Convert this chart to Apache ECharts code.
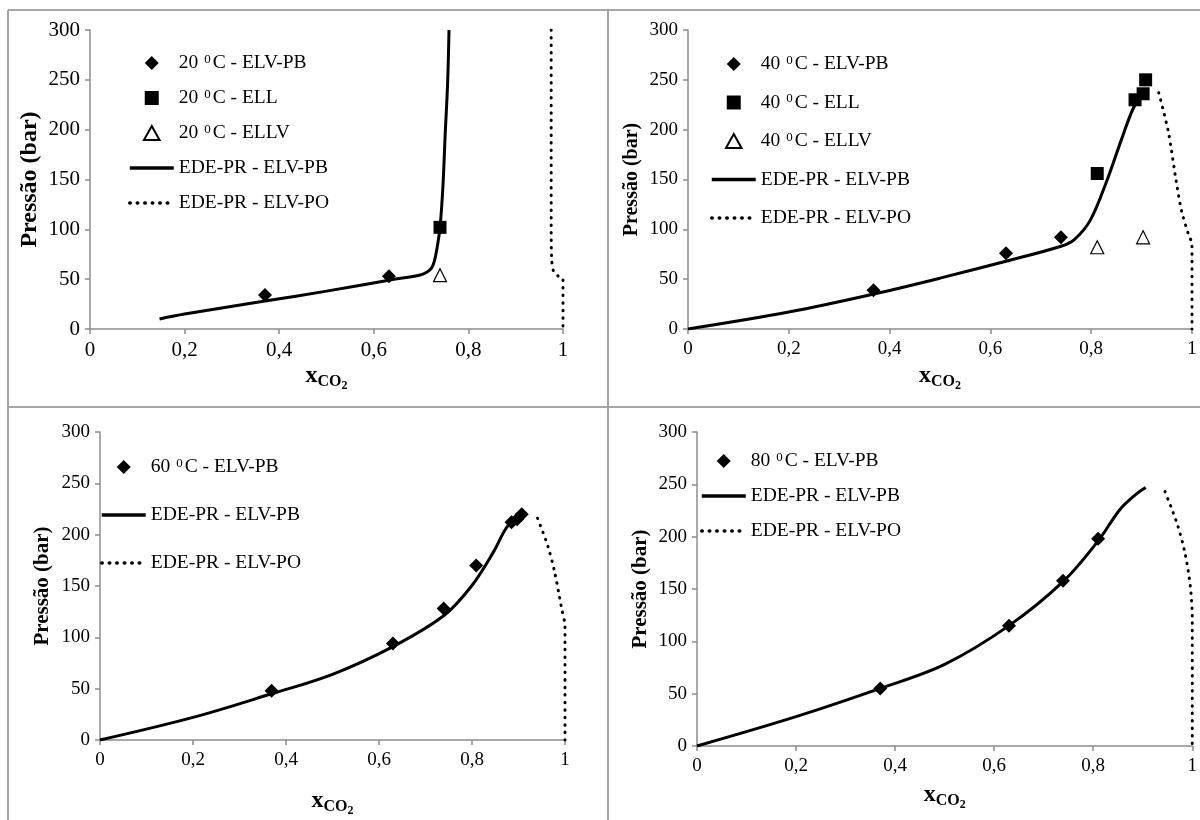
<!DOCTYPE html>
<html>
<head>
<meta charset="utf-8">
<script src="https://cdn.jsdelivr.net/npm/echarts@6/dist/echarts.min.js"></script>
<style>
  html, body { margin: 0; padding: 0; background: #fff; }
  #chart { width: 1200px; height: 820px; }
</style>
</head>
<body>
<div id="chart"></div>
<script>
// eixos (valores comuns aos 4 paineis)
const xMin = 0, xMax = 1, xStep = 0.2;
const yMin = 0, yMax = 300, yStep = 50;

// 20 C
const t20_elvpb = [[0.37, 34], [0.632, 53]];
const t20_ell = [[0.74, 102]];
const t20_ellv = [[0.74, 54]];
const t20_bolha = [[0.147, 10], [0.2, 15], [0.37, 28], [0.5, 38], [0.632, 49], [0.696, 54], [0.712, 57], [0.722, 61],
    [0.728, 68], [0.734, 82], [0.74, 102], [0.746, 142], [0.751, 196], [0.756, 246], [0.759, 300]];
const t20_orvalho = [[0.975, 300], [0.975, 200], [0.975, 100], [0.976, 70], [0.98, 58], [0.99, 53], [1, 50], [1, 0]];

// 40 C
const t40_elvpb = [[0.368, 39], [0.631, 76], [0.74, 92]];
const t40_ell = [[0.812, 156], [0.887, 230], [0.903, 236], [0.908, 250]];
const t40_ellv = [[0.812, 82], [0.903, 92]];
const t40_bolha = [[0, 0], [0.2, 17], [0.368, 35], [0.5, 51], [0.631, 68], [0.74, 83], [0.767, 90], [0.798, 109],
    [0.829, 146], [0.86, 190], [0.884, 222], [0.905, 238]];
const t40_orvalho = [[0.934, 237], [0.953, 198], [0.969, 147], [0.98, 117], [0.993, 95], [1, 85], [1, 0]];

// 60 C
const t60_elvpb = [[0.369, 48], [0.63, 94], [0.739, 128], [0.809, 170], [0.885, 212], [0.897, 215], [0.907, 220]];
const t60_bolha = [[0, 0], [0.2, 22], [0.369, 45], [0.5, 64], [0.63, 91], [0.739, 121], [0.799, 150], [0.846, 183],
    [0.873, 206], [0.9, 220]];
const t60_orvalho = [[0.941, 216], [0.963, 189], [0.978, 163], [0.992, 130], [1, 110], [1, 0]];

// 80 C
const t80_elvpb = [[0.37, 55], [0.63, 115], [0.739, 158], [0.81, 198]];
const t80_bolha = [[0, 0], [0.2, 28], [0.37, 55], [0.5, 78], [0.63, 115], [0.739, 157], [0.81, 196], [0.854, 226],
    [0.885, 240], [0.906, 247]];
const t80_orvalho = [[0.945, 243], [0.969, 213], [0.985, 185], [0.996, 153], [1, 122], [1, 0]];

const FONT = '"Liberation Serif", "Times New Roman", serif';
const AXIS_GRAY = '#8c8c8c';
const BORDER_GRAY = '#a6a6a6';

// posicao de cada painel
const grids = [
    { left: 90, top: 30, width: 473, height: 299 },
    { left: 688, top: 30, width: 504, height: 299 },
    { left: 100, top: 432, width: 465, height: 308 },
    { left: 697, top: 432, width: 496, height: 314 }
];
const tickFont = [21, 19, 19, 19];
const yTitleFont = [24, 20, 21, 21];
const xNameGap = [31, 31, 45, 33];
const yNameGap = [48, 46, 47, 46];

function xAxisOf(i) {
    return {
        type: 'value', gridIndex: i, min: xMin, max: xMax, interval: xStep,
        name: '{x|x}{s|CO}{s2|2}', nameLocation: 'middle', nameGap: xNameGap[i],
        nameTextStyle: {
            rich: {
                x: { fontFamily: FONT, fontSize: 24, fontWeight: 'bold', color: '#000' },
                s: { fontFamily: FONT, fontSize: 16, fontWeight: 'bold', color: '#000', padding: [12, 0, 0, 0] },
                s2: { fontFamily: FONT, fontSize: 12, fontWeight: 'bold', color: '#000', padding: [20, 0, 0, 0] }
            }
        },
        splitLine: { show: false },
        axisLine: { show: true, onZero: false, lineStyle: { color: AXIS_GRAY, width: 1.5 } },
        axisTick: { show: true, length: 5, lineStyle: { color: AXIS_GRAY, width: 1.5 } },
        axisLabel: {
            fontFamily: FONT, fontSize: tickFont[i], color: '#000', margin: 11,
            formatter: function(v) { return String(Math.round(v * 10) / 10).replace('.', ','); }
        }
    };
}

function yAxisOf(i) {
    return {
        type: 'value', gridIndex: i, min: yMin, max: yMax, interval: yStep,
        name: 'Pressão (bar)', nameLocation: 'middle', nameGap: yNameGap[i],
        nameTextStyle: { fontFamily: FONT, fontSize: yTitleFont[i], fontWeight: 'bold', color: '#000' },
        splitLine: { show: false },
        axisLine: { show: true, lineStyle: { color: AXIS_GRAY, width: 1.5 } },
        axisTick: { show: true, length: 5, lineStyle: { color: AXIS_GRAY, width: 1.5 } },
        axisLabel: { fontFamily: FONT, fontSize: tickFont[i], color: '#000', margin: 10 }
    };
}

function diamonds(name, i, data) {
    return { name: name, type: 'scatter', xAxisIndex: i, yAxisIndex: i, data: data,
        symbol: 'diamond', symbolSize: 14, itemStyle: { color: '#000', opacity: 1 }, z: 5 };
}
function squares(name, i, data) {
    return { name: name, type: 'scatter', xAxisIndex: i, yAxisIndex: i, data: data,
        symbol: 'rect', symbolSize: 13, itemStyle: { color: '#000', opacity: 1 }, z: 5 };
}
function triangles(name, i, data) {
    return { name: name, type: 'scatter', xAxisIndex: i, yAxisIndex: i, data: data,
        symbol: 'triangle', symbolSize: 13,
        itemStyle: { color: '#fff', borderColor: '#000', borderWidth: 1.2, opacity: 1 }, z: 5 };
}
function bolha(i, data) {
    return { name: 'EDE-PR - ELV-PB', type: 'line', xAxisIndex: i, yAxisIndex: i, data: data,
        symbol: 'none', smooth: 0.35, itemStyle: { color: 'rgba(0,0,0,0)', borderWidth: 0 },
        lineStyle: { color: '#000', width: 3 } };
}
function orvalho(i, data) {
    return { name: 'EDE-PR - ELV-PO', type: 'line', xAxisIndex: i, yAxisIndex: i, data: data,
        symbol: 'none', smooth: 0.3, itemStyle: { color: 'rgba(0,0,0,0)', borderWidth: 0 },
        lineStyle: { color: '#000', width: 3, type: [0.5, 7], cap: 'round' } };
}

// icones da legenda (mantem proporcao dentro da caixa de 44px)
const ICON_DIAMOND = 'path://M0,-1L1,0L0,1L-1,0Z';
const ICON_SQUARE = 'path://M0,0L1,0L1,1L0,1Z';
const ICON_TRIANGLE = 'path://M0.5,0L1,0.9L0,0.9Z';

// legenda com o "0" sobrescrito
const legendText = {
    fontFamily: FONT, fontSize: 19.5, color: '#000', lineHeight: 20,
    rich: {
        t: { fontFamily: FONT, fontSize: 19.5, color: '#000', lineHeight: 20 },
        sup: { fontFamily: FONT, fontSize: 13, color: '#000', verticalAlign: 'top', lineHeight: 20, padding: [0, 2, 7, 1] }
    }
};
function legendFormatter(name) {
    const parts = name.split('⁰');
    if (parts.length < 2) return name;
    return '{t|' + parts[0] + '}{sup|0}{t|' + parts[1] + '}';
}
function legendOf(temp, withLL, left, top, gap) {
    const items = [{ name: temp + ' ⁰C - ELV-PB', icon: ICON_DIAMOND }];
    if (withLL) {
        items.push({ name: temp + ' ⁰C - ELL', icon: ICON_SQUARE });
        items.push({ name: temp + ' ⁰C - ELLV', icon: ICON_TRIANGLE });
    }
    items.push({ name: 'EDE-PR - ELV-PB' });
    items.push({ name: 'EDE-PR - ELV-PO' });
    return {
        data: items, orient: 'vertical', left: left, top: top, itemGap: gap, padding: 0,
        itemWidth: 44, itemHeight: 14, symbolKeepAspect: true,
        lineStyle: { width: 3.5 },
        textStyle: legendText, formatter: legendFormatter, selectedMode: false
    };
}

const chart = echarts.init(document.getElementById('chart'));

const option = {
    animation: false,
    grid: grids,
    xAxis: [0, 1, 2, 3].map(xAxisOf),
    yAxis: [0, 1, 2, 3].map(yAxisOf),
    legend: [
        legendOf(20, true, 128, 53, 15),
        legendOf(40, true, 710, 54, 18.5),
        legendOf(60, false, 100, 457, 28),
        legendOf(80, false, 700, 451, 15)
    ],
    graphic: [
        // molduras dos paineis
        { type: 'line', shape: { x1: 8, y1: 10, x2: 1200, y2: 10 }, style: { stroke: BORDER_GRAY, lineWidth: 2 } },
        { type: 'line', shape: { x1: 8, y1: 10, x2: 8, y2: 820 }, style: { stroke: BORDER_GRAY, lineWidth: 2 } },
        { type: 'line', shape: { x1: 608, y1: 10, x2: 608, y2: 820 }, style: { stroke: BORDER_GRAY, lineWidth: 2 } },
        { type: 'line', shape: { x1: 8, y1: 407, x2: 1200, y2: 407 }, style: { stroke: BORDER_GRAY, lineWidth: 2 } }
    ],
    series: [
        bolha(0, t20_bolha),
        orvalho(0, t20_orvalho),
        diamonds('20 ⁰C - ELV-PB', 0, t20_elvpb),
        squares('20 ⁰C - ELL', 0, t20_ell),
        triangles('20 ⁰C - ELLV', 0, t20_ellv),

        bolha(1, t40_bolha),
        orvalho(1, t40_orvalho),
        diamonds('40 ⁰C - ELV-PB', 1, t40_elvpb),
        squares('40 ⁰C - ELL', 1, t40_ell),
        triangles('40 ⁰C - ELLV', 1, t40_ellv),

        bolha(2, t60_bolha),
        orvalho(2, t60_orvalho),
        diamonds('60 ⁰C - ELV-PB', 2, t60_elvpb),

        bolha(3, t80_bolha),
        orvalho(3, t80_orvalho),
        diamonds('80 ⁰C - ELV-PB', 3, t80_elvpb)
    ]
};

chart.setOption(option);
</script>
</body>
</html>
